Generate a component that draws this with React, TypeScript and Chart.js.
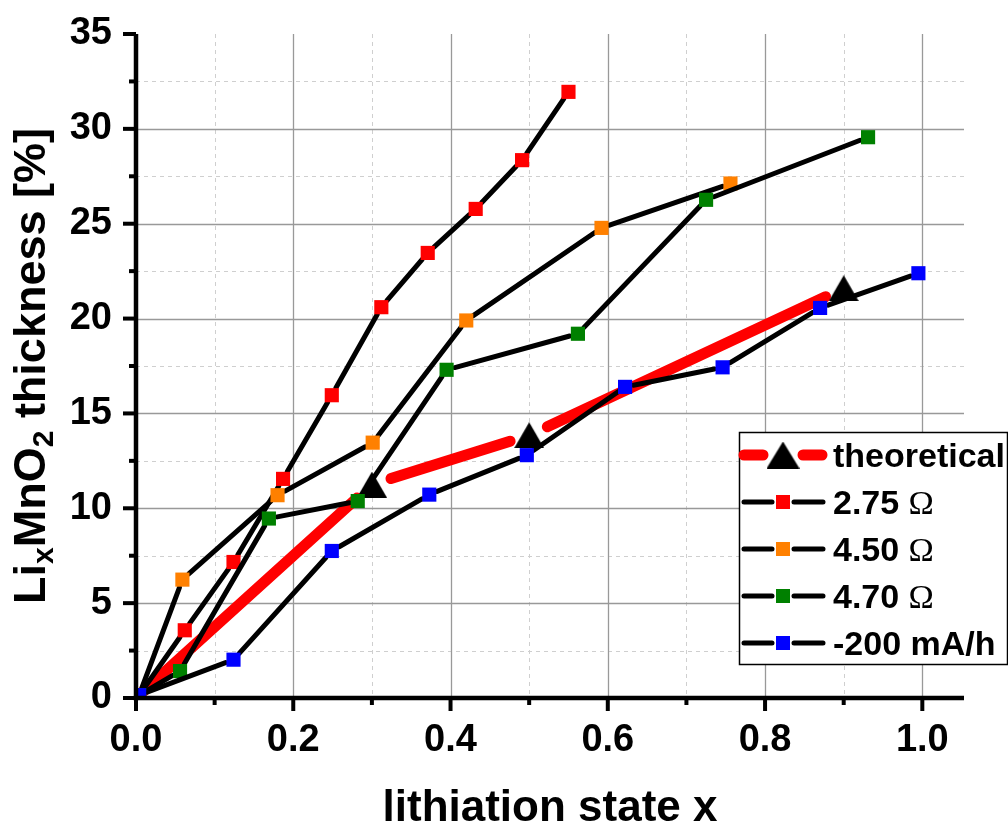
import React, { useEffect, useRef } from 'react';
import { Chart, registerables } from 'chart.js';

Chart.register(...registerables);

// ---------- data ----------
const theoX = [0, 0.3, 0.5, 0.9];
const theoY = [0, 11.25, 13.85, 21.6];

const r275X = [0.004, 0.062, 0.124, 0.187, 0.249, 0.312, 0.371, 0.432, 0.491, 0.55];
const r275Y = [0.15, 3.57, 7.17, 11.55, 15.96, 20.6, 23.46, 25.78, 28.35, 31.95];

const r450X = [0.004, 0.059, 0.18, 0.301, 0.42, 0.592, 0.756];
const r450Y = [0.15, 6.24, 10.69, 13.46, 19.9, 24.78, 27.12];

const r470X = [0.004, 0.056, 0.169, 0.282, 0.395, 0.562, 0.725, 0.931];
const r470Y = [0.15, 1.42, 9.46, 10.38, 17.3, 19.2, 26.26, 29.56];

const cur200X = [0.004, 0.124, 0.249, 0.373, 0.497, 0.622, 0.746, 0.87, 0.995];
const cur200Y = [0.15, 2.02, 7.75, 10.72, 12.8, 16.4, 17.43, 20.56, 22.39];

const seriesLabels = ['theoretical', '2.75 Ω', '4.50 Ω', '4.70 Ω', '-200 mA/h'];
const seriesColors = ['#ff0000', '#ff0000', '#ff8000', '#008000', '#0000ff'];

const xTicks = [0, 0.2, 0.4, 0.6, 0.8, 1.0];
const xMinorTicks = [0.1, 0.3, 0.5, 0.7, 0.9];
const yTicks = [0, 5, 10, 15, 20, 25, 30, 35];
const yMinorTicks = [2.5, 7.5, 12.5, 17.5, 22.5, 27.5, 32.5];

const xTitle = 'lithiation state x';
const X_MIN = 0;
const X_MAX = 1.053;
const Y_MIN = 0;
const Y_MAX = 35;

const FONT = "'Liberation Sans', Arial, Helvetica, sans-serif";
const SERIF = "'Liberation Serif', 'Times New Roman', serif";

function makeTriangle(w: number, h: number) {
  const c = document.createElement('canvas');
  c.width = w;
  c.height = h;
  const g = c.getContext('2d')!;
  g.fillStyle = '#000';
  g.beginPath();
  g.moveTo(0, h);
  g.lineTo(w / 2, 0);
  g.lineTo(w, h);
  g.closePath();
  g.fill();
  return c;
}

const decorPlugin = {
  id: 'decor',
  beforeDatasetsDraw(chart: any) {
    const { ctx, chartArea: a, scales } = chart;
    const x = scales.x;
    const y = scales.y;
    ctx.save();
    ctx.strokeStyle = '#cfcfcf';
    ctx.lineWidth = 1;
    ctx.setLineDash([4, 4]);
    for (const v of xMinorTicks) {
      const px = Math.round(x.getPixelForValue(v)) + 0.5;
      ctx.beginPath();
      ctx.moveTo(px, a.top);
      ctx.lineTo(px, a.bottom);
      ctx.stroke();
    }
    for (const v of yMinorTicks) {
      const py = Math.round(y.getPixelForValue(v)) + 0.5;
      ctx.beginPath();
      ctx.moveTo(a.left, py);
      ctx.lineTo(a.right, py);
      ctx.stroke();
    }
    ctx.setLineDash([]);
    ctx.strokeStyle = '#999999';
    ctx.lineWidth = 1.3;
    for (const v of xTicks) {
      if (v <= X_MIN) continue;
      const px = Math.round(x.getPixelForValue(v)) + 0.5;
      ctx.beginPath();
      ctx.moveTo(px, a.top);
      ctx.lineTo(px, a.bottom);
      ctx.stroke();
    }
    for (const v of yTicks) {
      if (v <= Y_MIN || v >= Y_MAX) continue;
      const py = Math.round(y.getPixelForValue(v)) + 0.5;
      ctx.beginPath();
      ctx.moveTo(a.left, py);
      ctx.lineTo(a.right, py);
      ctx.stroke();
    }
    ctx.restore();
  },
  beforeDatasetDraw(chart: any, args: any) {
    const ds = chart.data.datasets[args.index];
    const pts = args.meta.data;
    const { ctx, chartArea: a } = chart;
    ctx.save();
    ctx.beginPath();
    ctx.rect(a.left, a.top, a.right - a.left, a.bottom - a.top);
    ctx.clip();
    ctx.strokeStyle = ds.lineColor;
    ctx.lineWidth = ds.lineW;
    ctx.lineCap = 'round';
    for (let i = 0; i < pts.length - 1; i++) {
      const p0 = pts[i];
      const p1 = pts[i + 1];
      const dx = p1.x - p0.x;
      const dy = p1.y - p0.y;
      const d = Math.hypot(dx, dy);
      const g0 = ds.gaps[i];
      const g1 = ds.gaps[i + 1];
      if (d <= g0 + g1 + 1) continue;
      const ux = dx / d;
      const uy = dy / d;
      ctx.beginPath();
      ctx.moveTo(p0.x + ux * g0, p0.y + uy * g0);
      ctx.lineTo(p1.x - ux * g1, p1.y - uy * g1);
      ctx.stroke();
    }
    ctx.restore();
  },
  afterDatasetsDraw(chart: any) {
    const { ctx, chartArea: a, scales } = chart;
    const x = scales.x;
    const y = scales.y;
    ctx.save();
    ctx.strokeStyle = '#000';
    ctx.lineCap = 'butt';
    ctx.lineWidth = 4.5;
    ctx.beginPath();
    ctx.moveTo(a.left, a.top);
    ctx.lineTo(a.left, a.bottom + 2.25);
    ctx.stroke();
    ctx.beginPath();
    ctx.moveTo(a.left - 2.25, a.bottom);
    ctx.lineTo(a.right, a.bottom);
    ctx.stroke();
    ctx.lineWidth = 4;
    for (const v of xTicks) {
      const px = x.getPixelForValue(v);
      ctx.beginPath();
      ctx.moveTo(px, a.bottom);
      ctx.lineTo(px, a.bottom + 13);
      ctx.stroke();
    }
    for (const v of xMinorTicks) {
      const px = x.getPixelForValue(v);
      ctx.beginPath();
      ctx.moveTo(px, a.bottom);
      ctx.lineTo(px, a.bottom + 7);
      ctx.stroke();
    }
    for (const v of yTicks) {
      const py = y.getPixelForValue(v);
      ctx.beginPath();
      ctx.moveTo(a.left, py);
      ctx.lineTo(a.left - 13, py);
      ctx.stroke();
    }
    for (const v of yMinorTicks) {
      const py = y.getPixelForValue(v);
      ctx.beginPath();
      ctx.moveTo(a.left, py);
      ctx.lineTo(a.left - 7, py);
      ctx.stroke();
    }
    ctx.restore();
  },
  afterDraw(chart: any) {
    const { ctx, chartArea: a } = chart;
    ctx.save();
    ctx.fillStyle = '#000';
    ctx.font = `bold 44px ${FONT}`;
    ctx.textAlign = 'center';
    ctx.textBaseline = 'alphabetic';
    ctx.fillText(xTitle, (a.left + a.right) / 2, 821);

    const big = `bold 45px ${FONT}`;
    const small = `bold 30px ${FONT}`;
    const segs: [string, string, number][] = [
      ['Li', big, 0],
      ['x', small, 8],
      ['MnO', big, 0],
      ['2', small, 8],
      [' thickness [%]', big, 0],
    ];
    let total = 0;
    for (const s of segs) {
      ctx.font = s[1];
      total += ctx.measureText(s[0]).width;
    }
    ctx.translate(45, (a.top + a.bottom) / 2);
    ctx.rotate(-Math.PI / 2);
    ctx.textAlign = 'left';
    let cx = -total / 2;
    for (const s of segs) {
      ctx.font = s[1];
      ctx.fillText(s[0], cx, s[2]);
      cx += ctx.measureText(s[0]).width;
    }
    ctx.setTransform(1, 0, 0, 1, 0, 0);

    const lx = 739.5;
    const ly = 432.5;
    const lw = 268;
    const lh = 232;
    ctx.fillStyle = '#fff';
    ctx.fillRect(lx, ly, lw, lh);
    ctx.strokeStyle = '#000';
    ctx.lineWidth = 1.5;
    ctx.strokeRect(lx, ly, lw, lh);
    const tri = chart.$legendTri;
    for (let i = 0; i < seriesLabels.length; i++) {
      const ry = 455 + i * 47;
      ctx.lineCap = 'round';
      if (i === 0) {
        ctx.strokeStyle = seriesColors[0];
        ctx.lineWidth = 11;
        ctx.beginPath();
        ctx.moveTo(744, ry);
        ctx.lineTo(763, ry);
        ctx.moveTo(803, ry);
        ctx.lineTo(822, ry);
        ctx.stroke();
        if (tri) ctx.drawImage(tri, 783 - tri.width / 2, ry - tri.height / 2);
      } else {
        ctx.strokeStyle = '#000';
        ctx.lineWidth = 5;
        ctx.beginPath();
        ctx.moveTo(744, ry);
        ctx.lineTo(772, ry);
        ctx.moveTo(794, ry);
        ctx.lineTo(823, ry);
        ctx.stroke();
        ctx.fillStyle = seriesColors[i];
        ctx.fillRect(776, ry - 7, 14, 14);
      }
      ctx.fillStyle = '#000';
      ctx.textAlign = 'left';
      ctx.textBaseline = 'alphabetic';
      const label = seriesLabels[i];
      if (label.endsWith('Ω')) {
        const main = label.slice(0, -1);
        ctx.font = `bold 34px ${FONT}`;
        ctx.fillText(main, 833, ry + 12);
        const w = ctx.measureText(main).width;
        ctx.font = `34px ${SERIF}`;
        ctx.fillText('Ω', 833 + w, ry + 12);
      } else {
        ctx.font = `bold 34px ${FONT}`;
        ctx.fillText(label, 833, ry + 12);
      }
    }
    ctx.restore();
  },
};

function pts(xs: number[], ys: number[]) {
  return xs.map((x, i) => ({ x, y: ys[i] }));
}

export default function App() {
  const ref = useRef<HTMLCanvasElement | null>(null);

  useEffect(() => {
    if (!ref.current) return;
    const triPlot = makeTriangle(30, 26);
    const triLegend = makeTriangle(33, 27);
    const SQ_GAP = 8.5;
    const TRI_GAP = 20;
    const sq = (n: number) => new Array(n).fill(SQ_GAP);

    const squareSet = (label: string, xs: number[], ys: number[], color: string, order: number) => ({
      label,
      data: pts(xs, ys),
      pointStyle: 'rect',
      pointRadius: 10,
      pointBackgroundColor: color,
      pointBorderWidth: 0,
      showLine: false,
      order,
      lineColor: '#000',
      lineW: 5,
      gaps: sq(xs.length),
    });

    const chart = new Chart(ref.current, {
      type: 'scatter',
      data: {
        datasets: [
          {
            label: seriesLabels[0],
            data: pts(theoX, theoY),
            pointStyle: triPlot,
            pointRadius: theoX.map((_, i) => (i === 0 ? 0 : 15)),
            showLine: false,
            order: 5,
            lineColor: seriesColors[0],
            lineW: 11,
            gaps: theoX.map((_, i) => (i === 0 ? 0 : TRI_GAP)),
          } as any,
          squareSet(seriesLabels[1], r275X, r275Y, seriesColors[1], 4) as any,
          squareSet(seriesLabels[2], r450X, r450Y, seriesColors[2], 3) as any,
          squareSet(seriesLabels[3], r470X, r470Y, seriesColors[3], 2) as any,
          squareSet(seriesLabels[4], cur200X, cur200Y, seriesColors[4], 1) as any,
        ],
      },
      options: {
        responsive: false,
        maintainAspectRatio: false,
        animation: false,
        events: [],
        layout: { padding: { left: 0, right: 44, top: 34, bottom: 0 } },
        plugins: {
          legend: { display: false },
          tooltip: { enabled: false },
          title: { display: false },
        },
        scales: {
          x: {
            type: 'linear',
            min: X_MIN,
            max: X_MAX,
            grid: { display: false, drawTicks: false },
            border: { display: false },
            afterBuildTicks: (s: any) => {
              s.ticks = xTicks.map((v) => ({ value: v }));
            },
            afterFit: (s: any) => {
              s.height = 126;
              s.paddingLeft = 0;
              s.paddingRight = 0;
            },
            ticks: {
              color: '#000',
              font: { family: FONT, size: 38, weight: 'bold' },
              padding: 20,
              maxRotation: 0,
              autoSkip: false,
              callback: (v: any) => Number(v).toFixed(1),
            },
          },
          y: {
            type: 'linear',
            min: Y_MIN,
            max: Y_MAX,
            grid: { display: false, drawTicks: false },
            border: { display: false },
            afterBuildTicks: (s: any) => {
              s.ticks = yTicks.map((v) => ({ value: v }));
            },
            afterFit: (s: any) => {
              s.width = 136;
              s.paddingTop = 0;
              s.paddingBottom = 0;
            },
            ticks: {
              color: '#000',
              font: { family: FONT, size: 38, weight: 'bold' },
              padding: 24,
              autoSkip: false,
              callback: (v: any) => String(v),
            },
          },
        },
      } as any,
      plugins: [decorPlugin as any],
    });
    (chart as any).$legendTri = triLegend;
    chart.draw();

    return () => {
      chart.destroy();
    };
  }, []);

  return (
    <div
      style={{
        position: 'absolute',
        left: 0,
        top: 0,
        width: 1008,
        height: 824,
        background: '#fff',
      }}
    >
      <canvas ref={ref} width={1008} height={824} style={{ display: 'block' }} />
    </div>
  );
}
